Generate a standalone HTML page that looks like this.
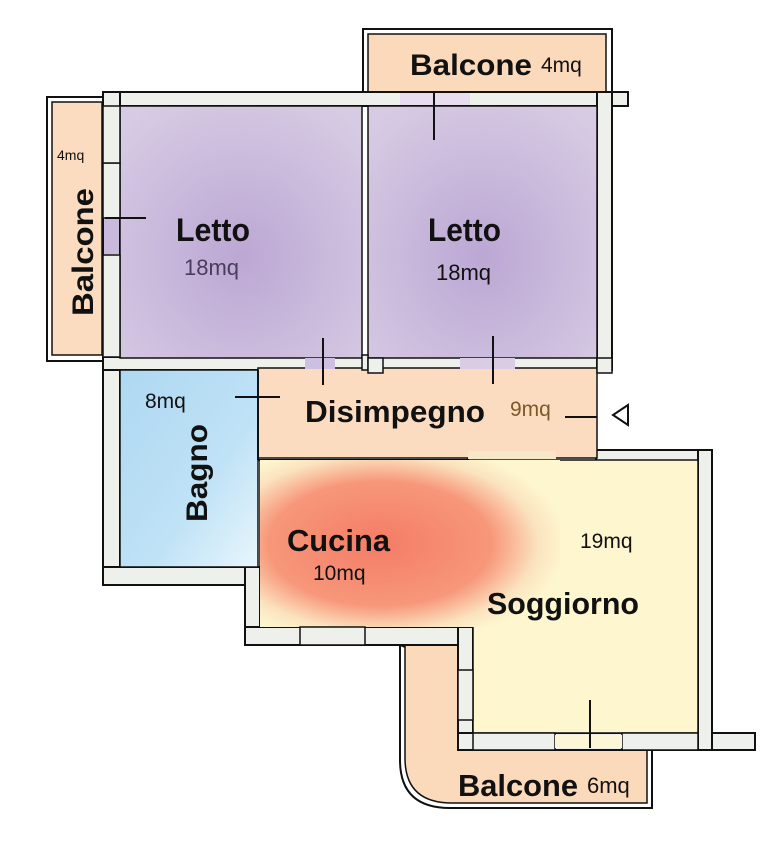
<!DOCTYPE html>
<html><head><meta charset="utf-8"><style>
html,body{margin:0;padding:0;background:#fff;width:769px;height:860px;overflow:hidden}
svg{display:block}
text{font-family:"Liberation Sans",sans-serif;fill:#111}
.b{font-weight:bold}
</style></head><body>
<svg width="769" height="860" viewBox="0 0 769 860" xmlns="http://www.w3.org/2000/svg">
<defs>
<radialGradient id="purp" cx="0.5" cy="0.6" r="0.7"><stop offset="0" stop-color="#bca7d4"/><stop offset="1" stop-color="#d6cbe3"/></radialGradient>
<radialGradient id="cuc" cx="0.4" cy="0.5" r="0.62"><stop offset="0" stop-color="#f47c66"/><stop offset="0.6" stop-color="#f7977a"/><stop offset="0.85" stop-color="#fbe3bf"/><stop offset="1" stop-color="#fdf6cf"/></radialGradient>
<linearGradient id="bag" x1="0" y1="0" x2="1" y2="1"><stop offset="0" stop-color="#aed8f2"/><stop offset="0.6" stop-color="#bfe2f6"/><stop offset="1" stop-color="#e8f6fc"/></linearGradient>
</defs>
<rect x="363" y="29" width="249" height="65" fill="#fff" stroke="#111" stroke-width="2"/>
<rect x="368" y="34" width="238" height="60" fill="#fbd9bb" stroke="#111" stroke-width="1.5"/>
<rect x="47" y="97" width="58" height="264" fill="#fff" stroke="#111" stroke-width="2"/>
<rect x="52" y="102" width="50" height="253" fill="#fbdcc0" stroke="#111" stroke-width="1.5"/>
<path d="M400,645 L400,760 Q400,808 450,808 L652,808 L652,745 Z" fill="#fff" stroke="#111" stroke-width="2"/>
<path d="M405,645 L405,758 Q405,803 452,803 L647,803 L647,745 L470,745 L470,645 Z" fill="#fbd9bb" stroke="#111" stroke-width="1.5"/>
<g fill="#eef0ec" stroke="#111" stroke-width="2">
<rect x="103" y="92" width="525" height="14"/>
<rect x="103" y="92" width="17" height="493"/>
<rect x="103" y="357" width="497" height="13"/>
<rect x="103" y="567" width="155" height="18"/>
<rect x="245" y="567" width="15" height="78"/>
<rect x="245" y="627" width="228" height="18"/>
<rect x="458" y="627" width="15" height="123"/>
<rect x="458" y="733" width="297" height="17"/>
<rect x="597" y="92" width="15" height="278"/>
<rect x="596" y="450" width="116" height="12"/>
<rect x="698" y="450" width="14" height="300"/>
<rect x="258" y="450" width="210" height="10"/>
</g>
<rect x="120" y="106" width="242" height="252" fill="url(#purp)" stroke="#111" stroke-width="1.5"/>
<rect x="368" y="106" width="229" height="252" fill="url(#purp)" stroke="#111" stroke-width="1.5"/>
<rect x="120" y="370" width="138" height="197" fill="url(#bag)" stroke="#111" stroke-width="1.5"/>
<rect x="258" y="368" width="339" height="90" fill="#fbdcc0" stroke="#111" stroke-width="1.5"/>
<path d="M260,460 L698,460 L698,733 L473,733 L473,627 L260,627 Z" fill="#fdf6cf" stroke="#111" stroke-width="1.5"/>
<path d="M260,460 L560,460 L560,627 L260,627 Z" fill="url(#cuc)"/>
<g fill="#eef0ec" stroke="#111" stroke-width="1.5">
<rect x="103" y="163" width="17" height="55"/>
<rect x="103" y="255" width="17" height="102"/>
<rect x="362" y="355" width="6" height="15"/>
<rect x="368" y="358" width="15" height="15"/>
<rect x="597" y="358" width="15" height="15"/>
<rect x="300" y="627" width="65" height="18"/>
<rect x="458" y="670" width="15" height="50"/>
<rect x="473" y="733" width="82" height="17"/>
<rect x="622" y="733" width="76" height="17"/>
</g>
<rect x="103" y="106" width="17" height="57" fill="#eef0ec" stroke="#111" stroke-width="1.5"/>
<rect x="400" y="93" width="70" height="12" fill="#e8dcef" stroke="none"/>
<rect x="104" y="219" width="15" height="35" fill="#c9b9dc"/>
<rect x="305" y="358" width="30" height="11" fill="#cdbfdf"/>
<rect x="460" y="358" width="55" height="11" fill="#d8cde4"/>
<rect x="468" y="451" width="88" height="8" fill="#f6e7c8"/>
<rect x="555" y="735" width="67" height="13" fill="#fdf6d6"/>
<g stroke="#111" stroke-width="2">
<line x1="434" y1="93" x2="434" y2="140"/>
<line x1="105" y1="218" x2="146" y2="218"/>
<line x1="323" y1="338" x2="323" y2="385"/>
<line x1="493" y1="336" x2="493" y2="384"/>
<line x1="235" y1="397" x2="280" y2="397"/>
<line x1="565" y1="417" x2="597" y2="417"/>
<line x1="590" y1="700" x2="590" y2="748"/>
<line x1="258" y1="370" x2="258" y2="460"/>
</g>
<path d="M628,405 L613,415 L628,425 Z" fill="none" stroke="#111" stroke-width="2"/>
<text x="410" y="75" class="b" font-size="30" textLength="122" lengthAdjust="spacingAndGlyphs">Balcone</text>
<text x="541" y="72" font-size="21">4mq</text>
<text x="57" y="160" font-size="14">4mq</text>
<text transform="translate(93,316) rotate(-90)" class="b" font-size="30" textLength="128" lengthAdjust="spacingAndGlyphs">Balcone</text>
<text x="176" y="241" class="b" font-size="32" textLength="74" lengthAdjust="spacingAndGlyphs">Letto</text>
<text x="184" y="275" font-size="22" style="fill:#4a3c5c">18mq</text>
<text x="428" y="241" class="b" font-size="32" textLength="73" lengthAdjust="spacingAndGlyphs">Letto</text>
<text x="436" y="280" font-size="22">18mq</text>
<text x="145" y="408" font-size="21">8mq</text>
<text transform="translate(207,522) rotate(-90)" class="b" font-size="30" textLength="98" lengthAdjust="spacingAndGlyphs">Bagno</text>
<text x="305" y="422" class="b" font-size="31" textLength="180" lengthAdjust="spacingAndGlyphs">Disimpegno</text>
<text x="510" y="416" font-size="21" style="fill:#7a5a2a">9mq</text>
<text x="287" y="551" class="b" font-size="31" textLength="103" lengthAdjust="spacingAndGlyphs">Cucina</text>
<text x="313" y="580" font-size="21">10mq</text>
<text x="580" y="548" font-size="21">19mq</text>
<text x="487" y="614" class="b" font-size="31" textLength="152" lengthAdjust="spacingAndGlyphs">Soggiorno</text>
<text x="458" y="796" class="b" font-size="31" textLength="120" lengthAdjust="spacingAndGlyphs">Balcone</text>
<text x="587" y="793" font-size="22">6mq</text>
</svg>
</body></html>
